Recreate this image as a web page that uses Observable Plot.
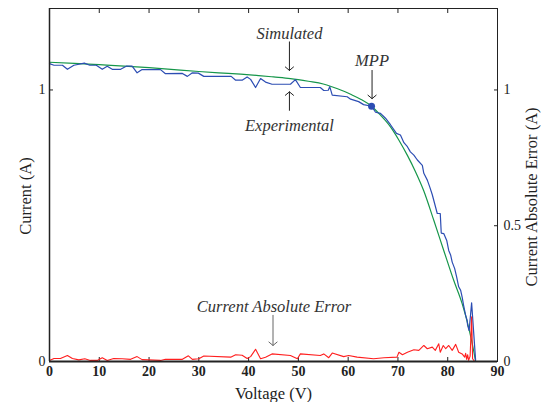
<!DOCTYPE html>
<html>
<head>
<meta charset="utf-8">
<script src="https://cdn.jsdelivr.net/npm/d3@7"></script>
<script src="https://cdn.jsdelivr.net/npm/@observablehq/plot@0.6"></script>
<style>
  html, body { margin: 0; padding: 0; background: #fff; }
  svg text { font-family: "Liberation Serif", "Times New Roman", serif; }
</style>
</head>
<body>
<div id="chart"></div>
<script>
// Simulated I-V curve (green)
const simV = [0, 5, 10, 15, 20, 26.3, 30, 34, 38.4, 42, 45, 48.4, 52, 55, 57, 58.5, 60.5, 62.5, 64.7, 66.5, 68.5, 70.2, 71.9, 73.5, 75.2, 77.2, 79.2, 81.2, 82.9, 84.2, 85.2, 85.6];
const simI = [1.102, 1.098, 1.093, 1.088, 1.082, 1.073, 1.068, 1.063, 1.058, 1.053, 1.048, 1.042, 1.032, 1.022, 1.010, 1.000, 0.984, 0.966, 0.940, 0.907, 0.864, 0.815, 0.759, 0.700, 0.628, 0.520, 0.409, 0.299, 0.213, 0.126, 0.041, 0.0];

// Experimental I-V curve (blue)
const expV = [0, 0.9, 2.6, 3.6, 4.9, 7.0, 8.1, 9.4, 10.6, 11.6, 12.6, 14.3, 15.5, 16.6, 17.6, 18.6, 22.3, 23.3, 26.7, 27.7, 28.7, 29.9, 31.0, 36.5, 37.4, 38.7, 39.7, 40.4, 41.4, 42.4, 43.4, 44.7, 48.4, 49.4, 50.4, 54.4, 55.1, 56.0, 56.3, 56.8, 59.8, 60.5, 62.1, 63.1, 64.7, 65.5, 66.5, 67.5, 68.5, 69.7, 70.5, 71.2, 71.9, 72.5, 73.2, 73.9, 74.9, 75.2, 75.9, 76.4, 76.9, 77.9, 78.5, 78.7, 79.2, 79.8, 80.2, 80.6, 80.9, 81.4, 81.8, 82.2, 82.6, 82.9, 83.2, 83.6, 83.9, 84.0, 84.3, 84.8, 85.6];
const expI = [1.097, 1.091, 1.091, 1.076, 1.091, 1.099, 1.091, 1.091, 1.076, 1.087, 1.076, 1.076, 1.088, 1.088, 1.063, 1.075, 1.075, 1.060, 1.061, 1.050, 1.063, 1.062, 1.050, 1.050, 1.036, 1.036, 1.048, 1.039, 1.009, 1.042, 1.029, 1.021, 1.021, 1.038, 1.009, 1.009, 0.998, 0.999, 1.012, 0.981, 0.975, 0.966, 0.957, 0.946, 0.940, 0.918, 0.914, 0.896, 0.872, 0.840, 0.834, 0.806, 0.791, 0.772, 0.760, 0.742, 0.722, 0.693, 0.668, 0.642, 0.614, 0.545, 0.545, 0.473, 0.471, 0.446, 0.409, 0.391, 0.366, 0.342, 0.311, 0.275, 0.262, 0.237, 0.206, 0.170, 0.151, 0.133, 0.114, 0.216, 0.005];

// Current absolute error (red)
const errV = [0, 0.9, 2.2, 3.6, 4.6, 5.9, 7.1, 8.2, 9.6, 10.6, 11.6, 12.9, 14.6, 16.3, 17.6, 18.6, 22.3, 23.3, 26.7, 27.9, 28.7, 30.0, 31.0, 36.4, 37.4, 38.7, 39.7, 40.4, 41.4, 42.4, 43.4, 44.7, 48.4, 49.8, 50.4, 54.4, 55.1, 56.1, 56.8, 59.1, 60.1, 61.8, 65.1, 67.2, 69.8, 70.2, 70.9, 71.9, 73.2, 74.2, 75.2, 75.9, 76.9, 77.5, 78.2, 78.5, 79.1, 79.6, 80.2, 80.9, 81.6, 82.2, 82.9, 83.4, 83.6, 83.8, 84.0, 84.2, 84.5, 84.8, 85.0, 85.4];
const errI = [0.004, 0.011, 0.011, 0.022, 0.011, 0.006, 0.010, 0.004, 0.004, 0.014, 0.004, 0.011, 0.010, 0.008, 0.018, 0.007, 0.004, 0.008, 0.008, 0.021, 0.008, 0.010, 0.020, 0.016, 0.025, 0.023, 0.011, 0.018, 0.045, 0.010, 0.016, 0.028, 0.022, 0.010, 0.028, 0.022, 0.028, 0.014, 0.031, 0.018, 0.022, 0.016, 0.010, 0.014, 0.016, 0.034, 0.025, 0.034, 0.043, 0.041, 0.059, 0.047, 0.053, 0.041, 0.065, 0.034, 0.059, 0.047, 0.059, 0.041, 0.063, 0.034, 0.028, 0.016, 0.030, 0.008, 0.025, 0.004, 0.020, 0.165, 0.010, 0.0];

// Maximum power point
const mppV = [64.7];
const mppI = [0.940];

// Tick values
const xTicks = [0, 10, 20, 30, 40, 50, 60, 70, 80, 90];
const yLeftTicks = [0, 1];
const yRightTicks = [0, 0.5, 1];

// Annotations (label anchored in data units, arrow from -> to)
const noteLabels = ["Simulated", "Experimental", "MPP", "Current Absolute Error"];
const noteV = [48.2, 48.2, 64.8, 45.1];
const noteI = [1.208, 0.870, 1.106, 0.200];
const arrowV = [48.2, 48.2, 64.8, 44.9];
const arrowFromI = [1.177, 0.925, 1.072, 0.170];
const arrowToI = [1.072, 0.993, 0.968, 0.059];

const sim = simV.map((v, i) => ({V: v, I: simI[i]}));
const exp = expV.map((v, i) => ({V: v, I: expI[i]}));
const err = errV.map((v, i) => ({V: v, I: errI[i]}));
const mpp = mppV.map((v, i) => ({V: v, I: mppI[i]}));
const notes = noteLabels.map((t, i) => ({t, V: noteV[i], I: noteI[i], aV: arrowV[i], a1: arrowFromI[i], a2: arrowToI[i]}));

const serif = "Liberation Serif";

const chart = Plot.plot({
  width: 549,
  height: 402,
  marginLeft: 49,
  marginRight: 52,
  marginTop: 8,
  marginBottom: 41,
  style: {fontFamily: serif, fontSize: "14px", color: "#222", background: "#fff"},
  x: {domain: [0, 90]},
  y: {domain: [0, 1.3]},
  marks: [
    Plot.frame({stroke: "#222", strokeWidth: 1}),
    Plot.axisX({anchor: "bottom", ticks: xTicks, tickSize: -4, tickPadding: 9, tickFormat: d => String(d), fontFamily: serif, fontWeight: "bold", fontSize: 14, label: null}),
    Plot.axisX({anchor: "top", ticks: xTicks.slice(1, -1), tickSize: -4, tickFormat: () => "", label: null}),
    Plot.axisY({anchor: "left", ticks: yLeftTicks, tickSize: -4, tickPadding: 8, tickFormat: d => String(d), fontFamily: serif, fontSize: 14, label: null}),
    Plot.axisY({anchor: "right", ticks: yRightTicks, tickSize: -4, tickPadding: 10, tickFormat: d => String(d), fontFamily: serif, fontSize: 14, label: null}),
    Plot.text(["Current (A)"], {frameAnchor: "left", textAnchor: "middle", dx: -24, dy: 11, rotate: -90, fontFamily: serif, fontSize: 16.5, fill: "#222"}),
    Plot.text(["Current Absolute Error (A)"], {frameAnchor: "right", textAnchor: "middle", dx: 34, dy: 12, rotate: -90, fontFamily: serif, fontSize: 16.5, fill: "#222"}),
    Plot.text(["Voltage (V)"], {frameAnchor: "bottom", textAnchor: "middle", lineAnchor: "bottom", dy: 37, fontFamily: serif, fontSize: 16.5, fill: "#222"}),
    Plot.line(sim, {x: "V", y: "I", stroke: "#16964a", strokeWidth: 1.2, curve: "monotone-x"}),
    Plot.line(exp, {x: "V", y: "I", stroke: "#2c4db3", strokeWidth: 1.2}),
    Plot.line(err, {x: "V", y: "I", stroke: "#ff1f1f", strokeWidth: 1.1}),
    Plot.dot(mpp, {x: "V", y: "I", r: 3.5, fill: "#2c4db3", stroke: null}),
    Plot.arrow(notes, {x1: "aV", y1: "a1", x2: "aV", y2: "a2", stroke: (d, i) => i === 3 ? "#666" : "#222", strokeWidth: 1, headLength: 8, headAngle: 100}),
    Plot.text(notes, {x: "V", y: "I", text: "t", fontFamily: serif, fontStyle: "italic", fontSize: 16.5, fill: "#333"}),
    Plot.ruleY([0], {stroke: "#222", strokeWidth: 2}),
    Plot.ruleX([0], {stroke: "#222", strokeWidth: 1.5})
  ]
});
document.getElementById("chart").appendChild(chart);
</script>
</body>
</html>
